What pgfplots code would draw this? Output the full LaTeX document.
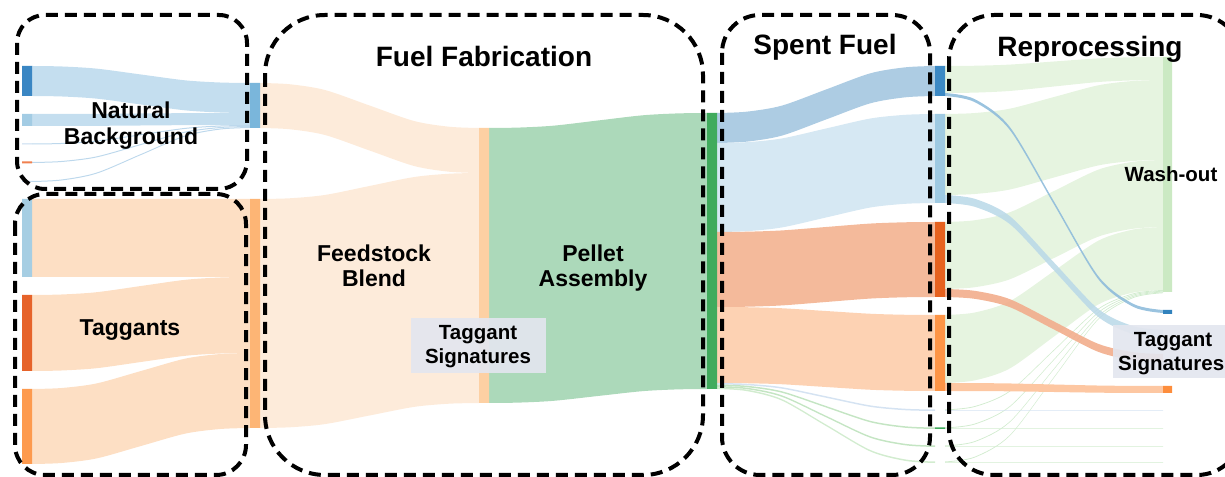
\documentclass[border=0pt]{standalone}
\usepackage{pgfplots}
\pgfplotsset{compat=1.18}
\usepgfplotslibrary{fillbetween}
\usepackage{fontspec}
\setmainfont{Liberation Sans}

\definecolor{natlink}{HTML}{C4DEEF}
\definecolor{natthin}{HTML}{BDD8EC}
\definecolor{nA}{HTML}{3A86C3}
\definecolor{nB}{HTML}{A3CCE4}
\definecolor{nC}{HTML}{C6DBEF}
\definecolor{nD}{HTML}{F0804F}
\definecolor{tagF}{HTML}{A6CEE3}
\definecolor{tagG}{HTML}{E6632A}
\definecolor{tagH}{HTML}{FD9A4E}
\definecolor{taglink}{HTML}{FDDFC4}
\definecolor{ctwoblue}{HTML}{7AB6DB}
\definecolor{ctwoorange}{HTML}{FDB575}
\definecolor{cthreelink}{HTML}{FDEBDA}
\definecolor{cthreenode}{HTML}{FDD0A3}
\definecolor{greenlink}{HTML}{ACD9BA}
\definecolor{cfournode}{HTML}{41AB5D}
\definecolor{sfAlink}{HTML}{ADCCE3}
\definecolor{sfBlink}{HTML}{D6E8F3}
\definecolor{sfClink}{HTML}{F4BA9B}
\definecolor{sfDlink}{HTML}{FDD2B3}
\definecolor{sfA}{HTML}{3C89C4}
\definecolor{sfB}{HTML}{9FCAE2}
\definecolor{sfC}{HTML}{E6621F}
\definecolor{sfD}{HTML}{FD9547}
\definecolor{thinblue}{HTML}{D5E3F2}
\definecolor{thingreen}{HTML}{C4E5C3}
\definecolor{thingreentwo}{HTML}{D2ECCF}
\definecolor{washlink}{HTML}{E6F4E0}
\definecolor{wash}{HTML}{CBE9C3}
\definecolor{tsblue}{HTML}{8FBCDB}
\definecolor{tslight}{HTML}{B9D8E8}
\definecolor{tssalmon}{HTML}{F2AD8C}
\definecolor{tsorange}{HTML}{FDC7A2}
\definecolor{tagblue}{HTML}{3182BD}
\definecolor{tagorange}{HTML}{FD8D3C}
\definecolor{labbox}{HTML}{E3E6EF}

% band: name, x0, top0, bottom0, x1, top1, bottom1, style
% edges follow the usual Sankey cubic (control points at the horizontal midpoint)
\newcommand\band[8]{%
  \pgfmathsetmacro\bzxA{#2+0.136*(#5-#2)}%
  \pgfmathsetmacro\bzxB{#2+0.297*(#5-#2)}%
  \pgfmathsetmacro\bzxC{#2+0.5*(#5-#2)}%
  \pgfmathsetmacro\bzxD{#2+0.703*(#5-#2)}%
  \pgfmathsetmacro\bzxE{#2+0.864*(#5-#2)}%
  \pgfmathsetmacro\bztA{#3+0.028*(#6-#3)}%
  \pgfmathsetmacro\bztB{#3+0.156*(#6-#3)}%
  \pgfmathsetmacro\bztC{#3+0.5*(#6-#3)}%
  \pgfmathsetmacro\bztD{#3+0.844*(#6-#3)}%
  \pgfmathsetmacro\bztE{#3+0.972*(#6-#3)}%
  \pgfmathsetmacro\bzbA{#4+0.028*(#7-#4)}%
  \pgfmathsetmacro\bzbB{#4+0.156*(#7-#4)}%
  \pgfmathsetmacro\bzbC{#4+0.5*(#7-#4)}%
  \pgfmathsetmacro\bzbD{#4+0.844*(#7-#4)}%
  \pgfmathsetmacro\bzbE{#4+0.972*(#7-#4)}%
  \edef\bandtmp{%
    \noexpand\addplot[name path=T#1, draw=none, smooth, forget plot] coordinates {(#2,#3) (\bzxA,\bztA) (\bzxB,\bztB) (\bzxC,\bztC) (\bzxD,\bztD) (\bzxE,\bztE) (#5,#6)};%
    \noexpand\addplot[name path=B#1, draw=none, smooth, forget plot] coordinates {(#2,#4) (\bzxA,\bzbA) (\bzxB,\bzbB) (\bzxC,\bzbC) (\bzxD,\bzbD) (\bzxE,\bzbE) (#5,#7)};%
  }\bandtmp
  \addplot[#8, draw=none, forget plot] fill between[of=T#1 and B#1];%
}
% node rectangle: x0, y0, x1, y1, colour
\newcommand\nd[5]{\addplot[fill=#5, draw=none, forget plot] coordinates {(#1,#2) (#3,#2) (#3,#4) (#1,#4) (#1,#2)};}

\tikzset{dbox/.style={draw=black, line width=4bp, dash pattern=on 12bp off 7bp},
  lab/.style={anchor=base, font=\bfseries\fontsize{23bp}{26bp}\selectfont, inner sep=0pt},
  big/.style={anchor=base, font=\bfseries\fontsize{28bp}{30bp}\selectfont, inner sep=0pt},
  small/.style={anchor=base, font=\bfseries\fontsize{20.5bp}{23bp}\selectfont, inner sep=0pt}}

\begin{document}
\begin{tikzpicture}
\begin{axis}[width=1225bp, height=477bp, scale only axis, hide axis, clip=false,
  xmin=0, xmax=1225, ymin=0, ymax=477, y dir=reverse]

% ---- column 1 -> column 2
\band{a}{32}{66}{96}{250}{83}{113}{fill=natlink}
\band{b}{32}{114}{126}{250}{113}{125}{fill=natlink}
\band{c}{32}{143.5}{144.5}{250}{125}{126}{fill=natthin}
\band{d}{32}{162}{163}{250}{126}{127}{fill=natthin}
\band{e}{32}{181}{182}{250}{127}{128}{fill=natthin}
\band{f}{32}{199}{277}{250}{199}{277}{fill=taglink}
\band{g}{32}{295}{371}{250}{277}{353}{fill=taglink}
\band{h}{32}{389}{464}{250}{353}{428}{fill=taglink}
% ---- column 2 -> column 3
\band{i}{260}{83}{128}{479}{128}{173}{fill=cthreelink}
\band{j}{260}{199}{428}{479}{173}{403}{fill=cthreelink}
% ---- column 3 -> column 4
\band{k}{489}{128}{403}{707}{113}{389}{fill=greenlink}
% ---- column 4 -> column 5
\band{l}{717}{113}{143}{935}{66}{96}{fill=sfAlink}
\band{m}{717}{143}{232}{935}{114}{203}{fill=sfBlink}
\band{n}{717}{232}{307}{935}{222}{297}{fill=sfClink}
\band{o}{717}{307}{383}{935}{315}{391}{fill=sfDlink}
\band{p}{717}{383}{384.5}{935}{409.5}{411}{fill=thinblue}
\band{q}{717}{384.5}{386}{935}{427.5}{429}{fill=thingreen}
\band{r}{717}{386}{387.5}{935}{445.5}{447}{fill=thingreen}
\band{s}{717}{387.5}{389}{935}{461.5}{463}{fill=thingreentwo}
% ---- column 5 -> column 6 (wash-out)
\band{t}{945}{66}{93}{1163}{57}{80}{fill=washlink}
\band{u}{945}{114}{195}{1163}{80}{160}{fill=washlink}
\band{v}{945}{222}{289}{1163}{160}{227}{fill=washlink}
\band{w}{945}{315}{383}{1163}{227}{290}{fill=washlink}
\band{xa}{945}{409.5}{410.3}{1163}{290}{290.8}{fill=thingreentwo}
\band{xb}{945}{427.5}{428.3}{1163}{290.8}{291.6}{fill=thingreentwo}
\band{xc}{945}{445.5}{446.3}{1163}{291.6}{292.4}{fill=thingreentwo}
\band{xd}{945}{461.5}{462.3}{1163}{292.4}{293.2}{fill=thingreentwo}
\band{ya}{945}{410.3}{411}{1163}{410.3}{411}{fill=thinblue}
\band{yb}{945}{428.3}{429}{1163}{428.3}{429}{fill=thingreentwo}
\band{yc}{945}{446.3}{447}{1163}{446.3}{447}{fill=thingreentwo}
\band{yd}{945}{462.3}{463}{1163}{462.3}{463}{fill=thingreentwo}
% ---- column 5 -> taggant signatures
\band{za}{945}{195}{203}{1163}{330}{338}{fill=tslight, fill opacity=0.85}
\band{zb}{945}{93}{96}{1163}{310}{313}{fill=tsblue, fill opacity=0.9}
\band{zc}{945}{289}{297}{1163}{354}{362}{fill=tssalmon, fill opacity=0.9}
\band{zd}{945}{383}{391}{1163}{386}{393}{fill=tsorange}

% ---- nodes
\nd{22}{66}{32}{96}{nA}
\nd{22}{114}{32}{126}{nB}
\nd{22}{143.5}{32}{144.5}{nC}
\nd{22}{161.5}{32}{163.5}{nD}
\nd{22}{181}{32}{182}{nC}
\nd{22}{199}{32}{277}{tagF}
\nd{22}{295}{32}{371}{tagG}
\nd{22}{389}{32}{464}{tagH}
\nd{250}{83}{260}{128}{ctwoblue}
\nd{250}{199}{260}{428}{ctwoorange}
\nd{479}{128}{489}{403}{cthreenode}
\nd{707}{113}{717}{389}{cfournode}
\nd{935}{66}{945}{96}{sfA}
\nd{935}{114}{945}{203}{sfB}
\nd{935}{222}{945}{297}{sfC}
\nd{935}{315}{945}{391}{sfD}
\nd{935}{427.5}{945}{429}{cfournode}
\nd{1163}{57}{1172}{292}{wash}
\nd{1163}{310}{1172}{314}{tagblue}
\nd{1163}{386}{1172}{393}{tagorange}

% ---- label boxes
\node[fill=labbox, fill opacity=0.92, minimum width=135bp, minimum height=55bp, inner sep=0pt] at (axis cs:478,345.5) {};
\node[fill=labbox, fill opacity=0.92, minimum width=136bp, minimum height=53bp, inner sep=0pt] at (axis cs:1181,351.5) {};

% ---- dashed group boxes
\draw[dbox, rounded corners=28bp] (axis cs:17,15) rectangle (axis cs:247,189);
\draw[dbox, rounded corners=30bp] (axis cs:15,194) rectangle (axis cs:246,475);
\draw[dbox, rounded corners=60bp] (axis cs:265,15) rectangle (axis cs:703,475);
\draw[dbox, rounded corners=38bp] (axis cs:722,15) rectangle (axis cs:930,475);
\draw[dbox, rounded corners=45bp] (axis cs:949,15) rectangle (axis cs:1242,475);

% ---- texts
\node[big] at (axis cs:484,67) {Fuel Fabrication};
\node[big] at (axis cs:825,55) {Spent Fuel};
\node[big] at (axis cs:1090,57) {Reprocessing};
\node[lab] at (axis cs:131,119) {Natural};
\node[lab] at (axis cs:131,145) {Background};
\node[lab] at (axis cs:130,336) {Taggants};
\node[lab] at (axis cs:374,262) {Feedstock};
\node[lab] at (axis cs:374,287) {Blend};
\node[lab] at (axis cs:593,262) {Pellet};
\node[lab] at (axis cs:593,287) {Assembly};
\node[small] at (axis cs:478,340) {Taggant};
\node[small] at (axis cs:478,364) {Signatures};
\node[small] at (axis cs:1171,182) {Wash-out};
\node[small] at (axis cs:1173,347) {Taggant};
\node[small, anchor=base west] at (axis cs:1118,371) {Signatures};
\end{axis}
\pgfresetboundingbox
\useasboundingbox (0,0) rectangle (1225bp,477bp);
\end{tikzpicture}
\end{document}
